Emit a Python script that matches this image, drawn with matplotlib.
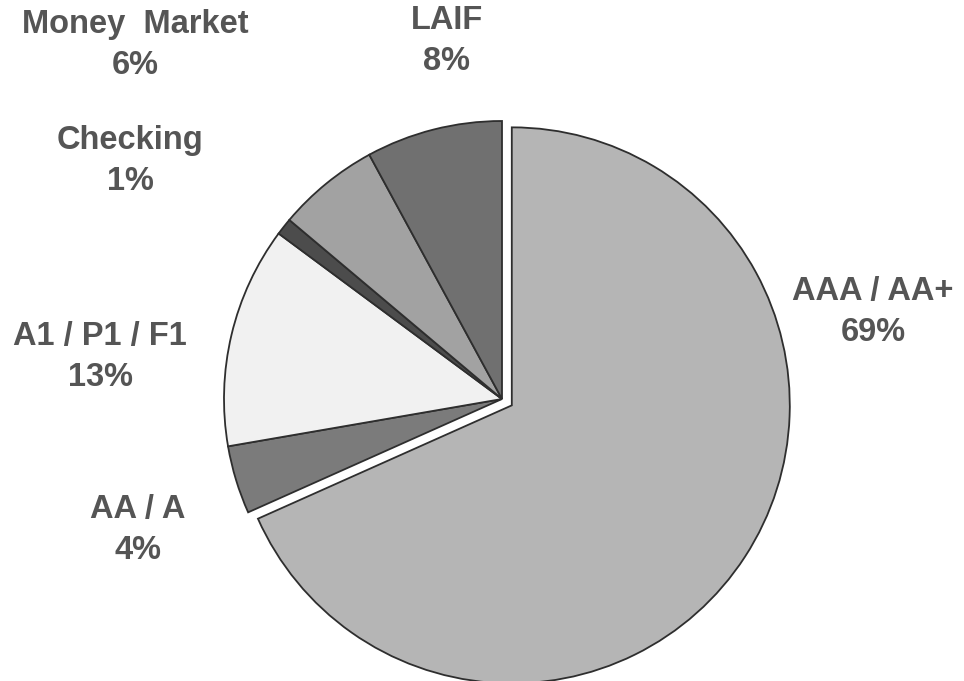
import numpy as np
import matplotlib.pyplot as plt

plt.rcParams['font.family'] = ['Liberation Sans', 'DejaVu Sans']

# portfolio allocation by holding type (percent)
labels = ["AAA / AA+", "AA / A", "A1 / P1 / F1", "Checking", "Money  Market", "LAIF"]
shares = [69, 4, 13, 1, 6, 8]
colors = ["#b5b5b5", "#7b7b7b", "#f1f1f1", "#4c4c4c", "#a2a2a2", "#707070"]
explode = [0.042, 0, 0, 0, 0, 0]

# label anchor points in figure pixels (x, y from top)
label_px = [(873, 312), (138, 530), (100, 357), (130, 161), (135, 45), (447, 41)]

W, H = 964, 681
R = 278.0
cx, cy = 502, 399

fig = plt.figure(figsize=(W / 100, H / 100), dpi=100)
ax = fig.add_axes([0, 0, 1, 1])

ax.pie(shares, colors=colors, explode=explode, startangle=90, counterclock=False,
       radius=1.0, wedgeprops=dict(edgecolor="#2e2e2e", linewidth=1.3))

# pie() resets the limits, so put the pixel-matched ones back afterwards
ax.set_aspect("auto")
ax.set_xlim(-cx / R, (W - cx) / R)
ax.set_ylim(-(H - cy) / R, cy / R)
ax.axis("off")

for lab, val, (px, py) in zip(labels, shares, label_px):
    fig.text(px / W, 1 - py / H, f"{lab}\n{val}%", ha="center", va="center",
             fontsize=23.5, fontweight="bold", color="#555555", linespacing=1.4)

fig.savefig("out.png", dpi=100, facecolor="white")
